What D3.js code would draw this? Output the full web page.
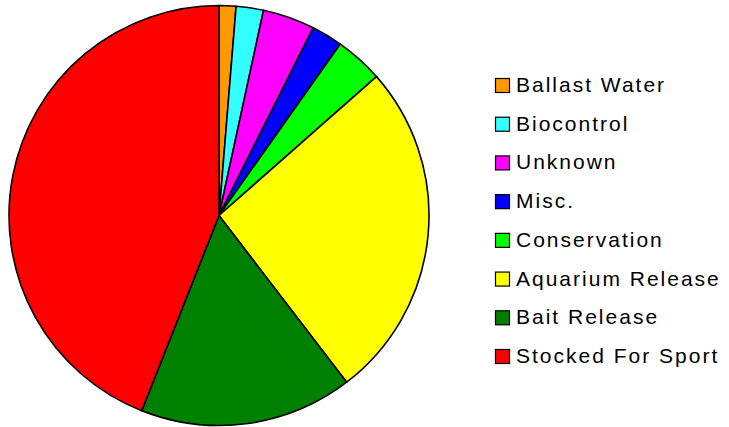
<!DOCTYPE html>
<html>
<head>
<meta charset="utf-8">
<script src="https://cdn.jsdelivr.net/npm/d3@7"></script>
<style>
  body { margin: 0; background: #fff; }
  svg { display: block; }
  .legendText { font-family: "Liberation Sans", Arial, sans-serif; font-size: 21px; letter-spacing: 2px; fill: #000; }
</style>
</head>
<body>
<svg id="pieChart" width="729" height="427"></svg>
<script>
// sources of introduction, share in percent
var names = ["Ballast Water", "Biocontrol", "Unknown", "Misc.", "Conservation", "Aquarium Release", "Bait Release", "Stocked For Sport"];
var shares = [1.3, 2.1, 4.0, 2.4, 3.7, 26.1, 16.4, 44.0];
var colours = ["#FF9900", "#33FFFF", "#FF00FF", "#0000FF", "#00FF00", "#FFFF00", "#008000", "#FF0000"];

var width = 729, height = 427;
var radius = 210;

var sv = d3.select("#pieChart");

var color = d3.scaleOrdinal()
    .domain(names)
    .range(colours);

var pie = d3.pie()
    .sort(null)
    .value(function(d, i) { return shares[i]; });

var arc = d3.arc()
    .outerRadius(radius)
    .innerRadius(0);

// make pie
var g = sv.append("g")
    .attr("transform", "translate(" + [219, 215.5] + ")");

g.selectAll(".arc")
    .data(pie(names))
    .enter()
    .append("path")
    .attr("class", "arc")
    .attr("d", arc)
    .style("fill", function(d) { return color(d.data); })
    .style("stroke", "#000")
    .style("stroke-width", 1.6)
    .style("stroke-linejoin", "round");

// legend
var legendY = d3.scalePoint()
    .domain(names)
    .range([92, 363]);

var legend = sv.selectAll(".legend")
    .data(names).enter()
    .append("g")
    .attr("class", "legend")
    .attr("transform", function(d) { return "translate(0," + legendY(d) + ")"; });

legend.append("rect")
    .attr("class", "legendRect")
    .attr("x", 495.5)
    .attr("y", -13.5)
    .attr("width", 14)
    .attr("height", 14)
    .style("fill", function(d) { return color(d); })
    .style("stroke", "#000")
    .style("stroke-width", 1.2);

legend.append("text")
    .attr("class", "legendText")
    .attr("x", 516)
    .attr("y", 0)
    .text(function(d) { return d; });
</script>
</body>
</html>
